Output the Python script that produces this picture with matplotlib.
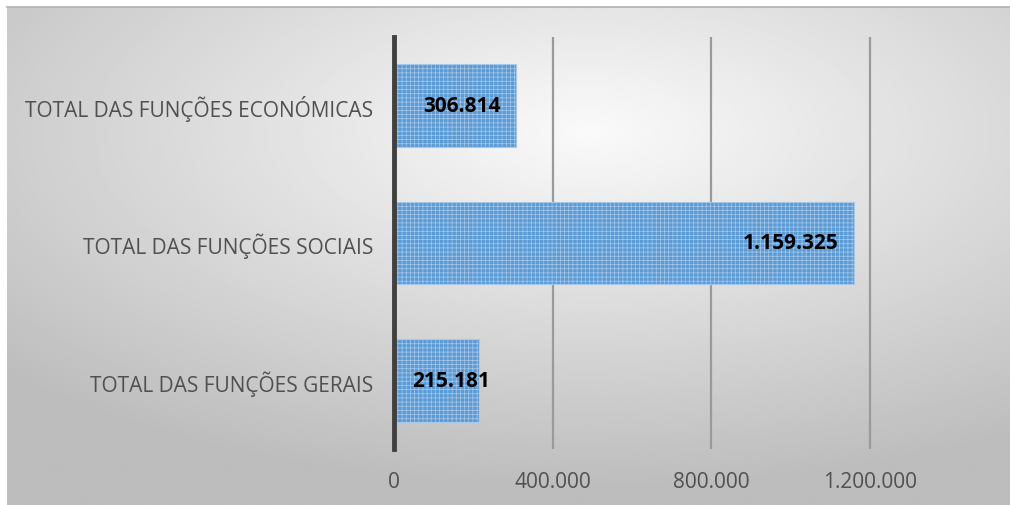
#!/usr/bin/env python3
"""Horizontal bar chart: totals by function group (Excel-style look)."""

import matplotlib
matplotlib.use("Agg")
import matplotlib.pyplot as plt
import numpy as np
from matplotlib.ticker import FuncFormatter

categories = ["TOTAL DAS FUNÇÕES GERAIS",
              "TOTAL DAS FUNÇÕES SOCIAIS",
              "TOTAL DAS FUNÇÕES ECONÓMICAS"]
values = [215181, 1159325, 306814]
xticks = [0, 400000, 800000, 1200000]

BAR_COL = "#5b9bd5"
HATCH_COL = "#a8c8ea"
TXT_COL = "#505050"

plt.rcParams["font.family"] = ["Open Sans", "DejaVu Sans"]
plt.rcParams["hatch.linewidth"] = 0.5


def dotted(v, _pos=None):
    return f"{int(v):,}".replace(",", ".")


fig = plt.figure(figsize=(10.1, 5.06), dpi=100)

# chart-area background: radial grey gradient inside a thin frame
bg = fig.add_axes([7 / 1010, 0, 1 - 7 / 1010, 1 - 8 / 506])
yy, xx = np.mgrid[0:1:200j, 0:1:400j]
dist = np.sqrt(((xx - 0.58) / 1.0) ** 2 + ((yy - 0.25) / 0.9) ** 2)
shade = np.clip(0.98 - 0.3 * dist, 0.74, 0.98)
bg.imshow(shade, cmap="gray", vmin=0, vmax=1, aspect="auto",
          extent=[0, 1, 1, 0])
bg.set_axis_off()
fig.add_artist(plt.Line2D([7 / 1010, 1], [1 - 8 / 506, 1 - 8 / 506],
                          color="#b0b0b0", linewidth=1.2))

ax = fig.add_axes([394 / 1010, 56 / 506, 555 / 1010, 412 / 506])
ax.patch.set_alpha(0)

y = np.arange(len(categories))
bars = ax.barh(y, values, height=0.6, color=BAR_COL, edgecolor=HATCH_COL,
               linewidth=0.8, hatch="++++", zorder=3)

ax.set_xlim(0, 1400000)
ax.set_ylim(-0.5, len(categories) - 0.5)
ax.set_xticks(xticks)
ax.xaxis.set_major_formatter(FuncFormatter(dotted))
ax.set_yticks(y)
ax.set_yticklabels(categories)
ax.tick_params(axis="both", length=0, labelsize=15, colors=TXT_COL)
ax.tick_params(axis="y", pad=15)
ax.tick_params(axis="x", pad=16)
ax.grid(True, axis="x", color="#9a9a9a", linewidth=1.6, zorder=0)
for s in ["top", "right", "bottom"]:
    ax.spines[s].set_visible(False)
ax.spines["left"].set_color("#404040")
ax.spines["left"].set_linewidth(3.5)
ax.spines["left"].set_zorder(4)

for bar, v in zip(bars, values):
    yc = bar.get_y() + bar.get_height() / 2
    if v < 250000:
        ax.annotate(dotted(v), (0, yc), xytext=(13, 0),
                    textcoords="offset points", ha="left", va="center",
                    fontsize=15, fontweight="bold", color="black", zorder=5)
    else:
        ax.annotate(dotted(v), (v, yc), xytext=(-11, 0),
                    textcoords="offset points", ha="right", va="center",
                    fontsize=15, fontweight="bold", color="black", zorder=5)

fig.savefig("out.png", dpi=100)
